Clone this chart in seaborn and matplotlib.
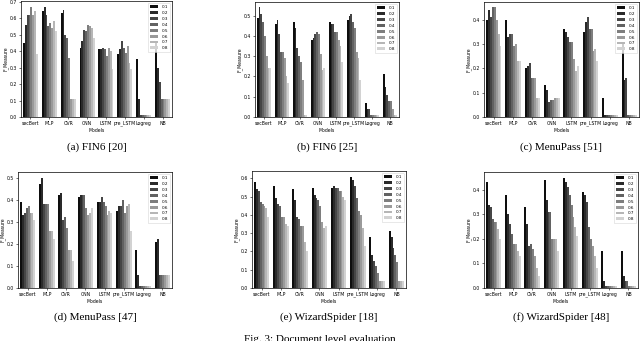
import numpy as np
import pandas as pd
import seaborn as sns
import matplotlib.pyplot as plt

models = ["secBert", "MLP", "OVR", "CNN", "LSTM", "pre_LSTM", "Logreg", "NB"]
thresholds = ["0.1", "0.2", "0.3", "0.4", "0.5", "0.6", "0.7", "0.8"]

# one row per model, one value per threshold
fin6_20 = [
    [0.45, 0.56, 0.62, 0.62, 0.67, 0.62, 0.64, 0.38],
    [0.64, 0.67, 0.62, 0.55, 0.57, 0.54, 0.58, 0.52],
    [0.63, 0.65, 0.50, 0.48, 0.36, 0.11, 0.11, 0.11],
    [0.42, 0.46, 0.53, 0.52, 0.56, 0.55, 0.54, 0.48],
    [0.41, 0.41, 0.42, 0.41, 0.37, 0.42, 0.40, 0.29],
    [0.38, 0.41, 0.46, 0.42, 0.39, 0.43, 0.33, 0.29],
    [0.35, 0.11, 0.01, 0.01, 0.01, 0.01, 0.01, 0.01],
    [0.46, 0.30, 0.21, 0.11, 0.11, 0.11, 0.11, 0.11],
]
fin6_25 = [
    [0.49, 0.54, 0.51, 0.47, 0.40, 0.30, 0.24, 0.24],
    [0.46, 0.48, 0.41, 0.32, 0.32, 0.29, 0.20, 0.17],
    [0.47, 0.44, 0.34, 0.30, 0.27, 0.18, 0.01, 0.01],
    [0.38, 0.39, 0.41, 0.42, 0.41, 0.31, 0.23, 0.24],
    [0.47, 0.46, 0.46, 0.42, 0.42, 0.38, 0.35, 0.27],
    [0.48, 0.50, 0.51, 0.47, 0.44, 0.32, 0.29, 0.18],
    [0.07, 0.04, 0.04, 0.01, 0.01, 0.01, 0.01, 0.01],
    [0.21, 0.15, 0.11, 0.08, 0.08, 0.04, 0.01, 0.01],
]
menupass_51 = [
    [0.40, 0.44, 0.41, 0.45, 0.45, 0.40, 0.34, 0.29],
    [0.40, 0.33, 0.34, 0.34, 0.29, 0.30, 0.23, 0.23],
    [0.20, 0.21, 0.22, 0.16, 0.16, 0.16, 0.08, 0.08],
    [0.13, 0.11, 0.06, 0.07, 0.07, 0.08, 0.08, 0.08],
    [0.36, 0.35, 0.33, 0.31, 0.31, 0.24, 0.19, 0.21],
    [0.35, 0.39, 0.41, 0.36, 0.36, 0.27, 0.28, 0.23],
    [0.08, 0.01, 0.01, 0.01, 0.01, 0.01, 0.01, 0.01],
    [0.30, 0.15, 0.16, 0.01, 0.01, 0.01, 0.01, 0.01],
]
menupass_47 = [
    [0.39, 0.33, 0.34, 0.36, 0.37, 0.34, 0.34, 0.31],
    [0.47, 0.50, 0.38, 0.38, 0.38, 0.26, 0.26, 0.22],
    [0.42, 0.43, 0.31, 0.32, 0.27, 0.17, 0.17, 0.12],
    [0.41, 0.42, 0.42, 0.42, 0.36, 0.33, 0.34, 0.36],
    [0.39, 0.39, 0.41, 0.39, 0.37, 0.33, 0.35, 0.34],
    [0.35, 0.37, 0.37, 0.40, 0.34, 0.37, 0.38, 0.26],
    [0.17, 0.06, 0.01, 0.01, 0.01, 0.01, 0.01, 0.01],
    [0.21, 0.22, 0.06, 0.06, 0.06, 0.06, 0.06, 0.06],
]
wizard_18 = [
    [0.58, 0.54, 0.53, 0.47, 0.46, 0.45, 0.44, 0.39],
    [0.56, 0.49, 0.46, 0.45, 0.39, 0.39, 0.35, 0.34],
    [0.54, 0.48, 0.39, 0.38, 0.34, 0.34, 0.25, 0.20],
    [0.55, 0.51, 0.49, 0.48, 0.45, 0.36, 0.33, 0.34],
    [0.55, 0.56, 0.55, 0.55, 0.53, 0.53, 0.50, 0.48],
    [0.61, 0.59, 0.56, 0.49, 0.42, 0.40, 0.33, 0.23],
    [0.28, 0.18, 0.15, 0.12, 0.08, 0.04, 0.04, 0.04],
    [0.31, 0.28, 0.22, 0.18, 0.14, 0.04, 0.04, 0.04],
]
wizard_48 = [
    [0.43, 0.34, 0.33, 0.28, 0.27, 0.27, 0.24, 0.20],
    [0.38, 0.30, 0.26, 0.22, 0.18, 0.18, 0.15, 0.13],
    [0.33, 0.26, 0.17, 0.18, 0.16, 0.13, 0.08, 0.05],
    [0.44, 0.36, 0.31, 0.31, 0.20, 0.20, 0.20, 0.15],
    [0.45, 0.43, 0.41, 0.38, 0.34, 0.29, 0.25, 0.21],
    [0.39, 0.38, 0.35, 0.25, 0.20, 0.17, 0.13, 0.08],
    [0.15, 0.03, 0.01, 0.01, 0.01, 0.01, 0.01, 0.01],
    [0.15, 0.05, 0.03, 0.03, 0.01, 0.01, 0.01, 0.01],
]

panels = [
    (fin6_20, "(a) FIN6 [20]"),
    (fin6_25, "(b) FIN6 [25]"),
    (menupass_51, "(c) MenuPass [51]"),
    (menupass_47, "(d) MenuPass [47]"),
    (wizard_18, "(e) WizardSpider [18]"),
    (wizard_48, "(f) WizardSpider [48]"),
]

# axes boxes in pixels: left, right, top, bottom
boxes = [
    (21, 172, 1, 117), (255, 399, 2, 117), (484, 639, 2, 117),
    (18, 172, 172, 288), (252, 406, 171, 288), (484, 638, 172, 288),
]
caption_y = [147, 147, 147, 317, 317, 317]

W, H = 640, 341
fs = 3.3
plt.rcParams.update({
    "axes.linewidth": 0.5,
    "xtick.major.width": 0.4, "ytick.major.width": 0.4,
    "xtick.major.size": 1.5, "ytick.major.size": 1.5,
    "xtick.major.pad": 1.2, "ytick.major.pad": 1.2,
    "xtick.labelsize": fs, "ytick.labelsize": fs,
})
grays = sns.blend_palette(["#0e0e0e", "#d2d2d2"], len(thresholds))

fig = plt.figure(figsize=(W / 100, H / 100), dpi=100)

for (vals, cap), (l, r, t, b), cy in zip(panels, boxes, caption_y):
    ax = fig.add_axes([l / W, 1 - b / H, (r - l) / W, (b - t) / H])
    df = pd.DataFrame(vals, index=models, columns=thresholds)
    df = df.reset_index().melt(id_vars="index", var_name="threshold", value_name="F_Measure")
    df = df.rename(columns={"index": "Models"})
    sns.barplot(data=df, x="Models", y="F_Measure", hue="threshold", palette=grays,
                saturation=1, errorbar=None, ax=ax, linewidth=0)
    ax.set_xlabel("Models", fontsize=fs, labelpad=1)
    ax.set_ylabel("F_Measure", fontsize=fs, labelpad=1)
    ax.legend(loc="upper right", fontsize=fs - 0.3, labelspacing=0.45,
              handlelength=2.0, borderpad=0.5, framealpha=0.8, edgecolor="#cccccc")
    ax.get_legend().get_frame().set_linewidth(0.4)
    xc = (l + r) / 2 / W
    fig.text(xc, 1 - cy / H, cap, ha="center", va="center", fontsize=8,
             family="Liberation Serif")

fig.text(0.5, 1 - 339 / H, "Fig. 3: Document level evaluation", ha="center", va="center",
         fontsize=8, family="Liberation Serif")

fig.savefig("out.png", dpi=100)
